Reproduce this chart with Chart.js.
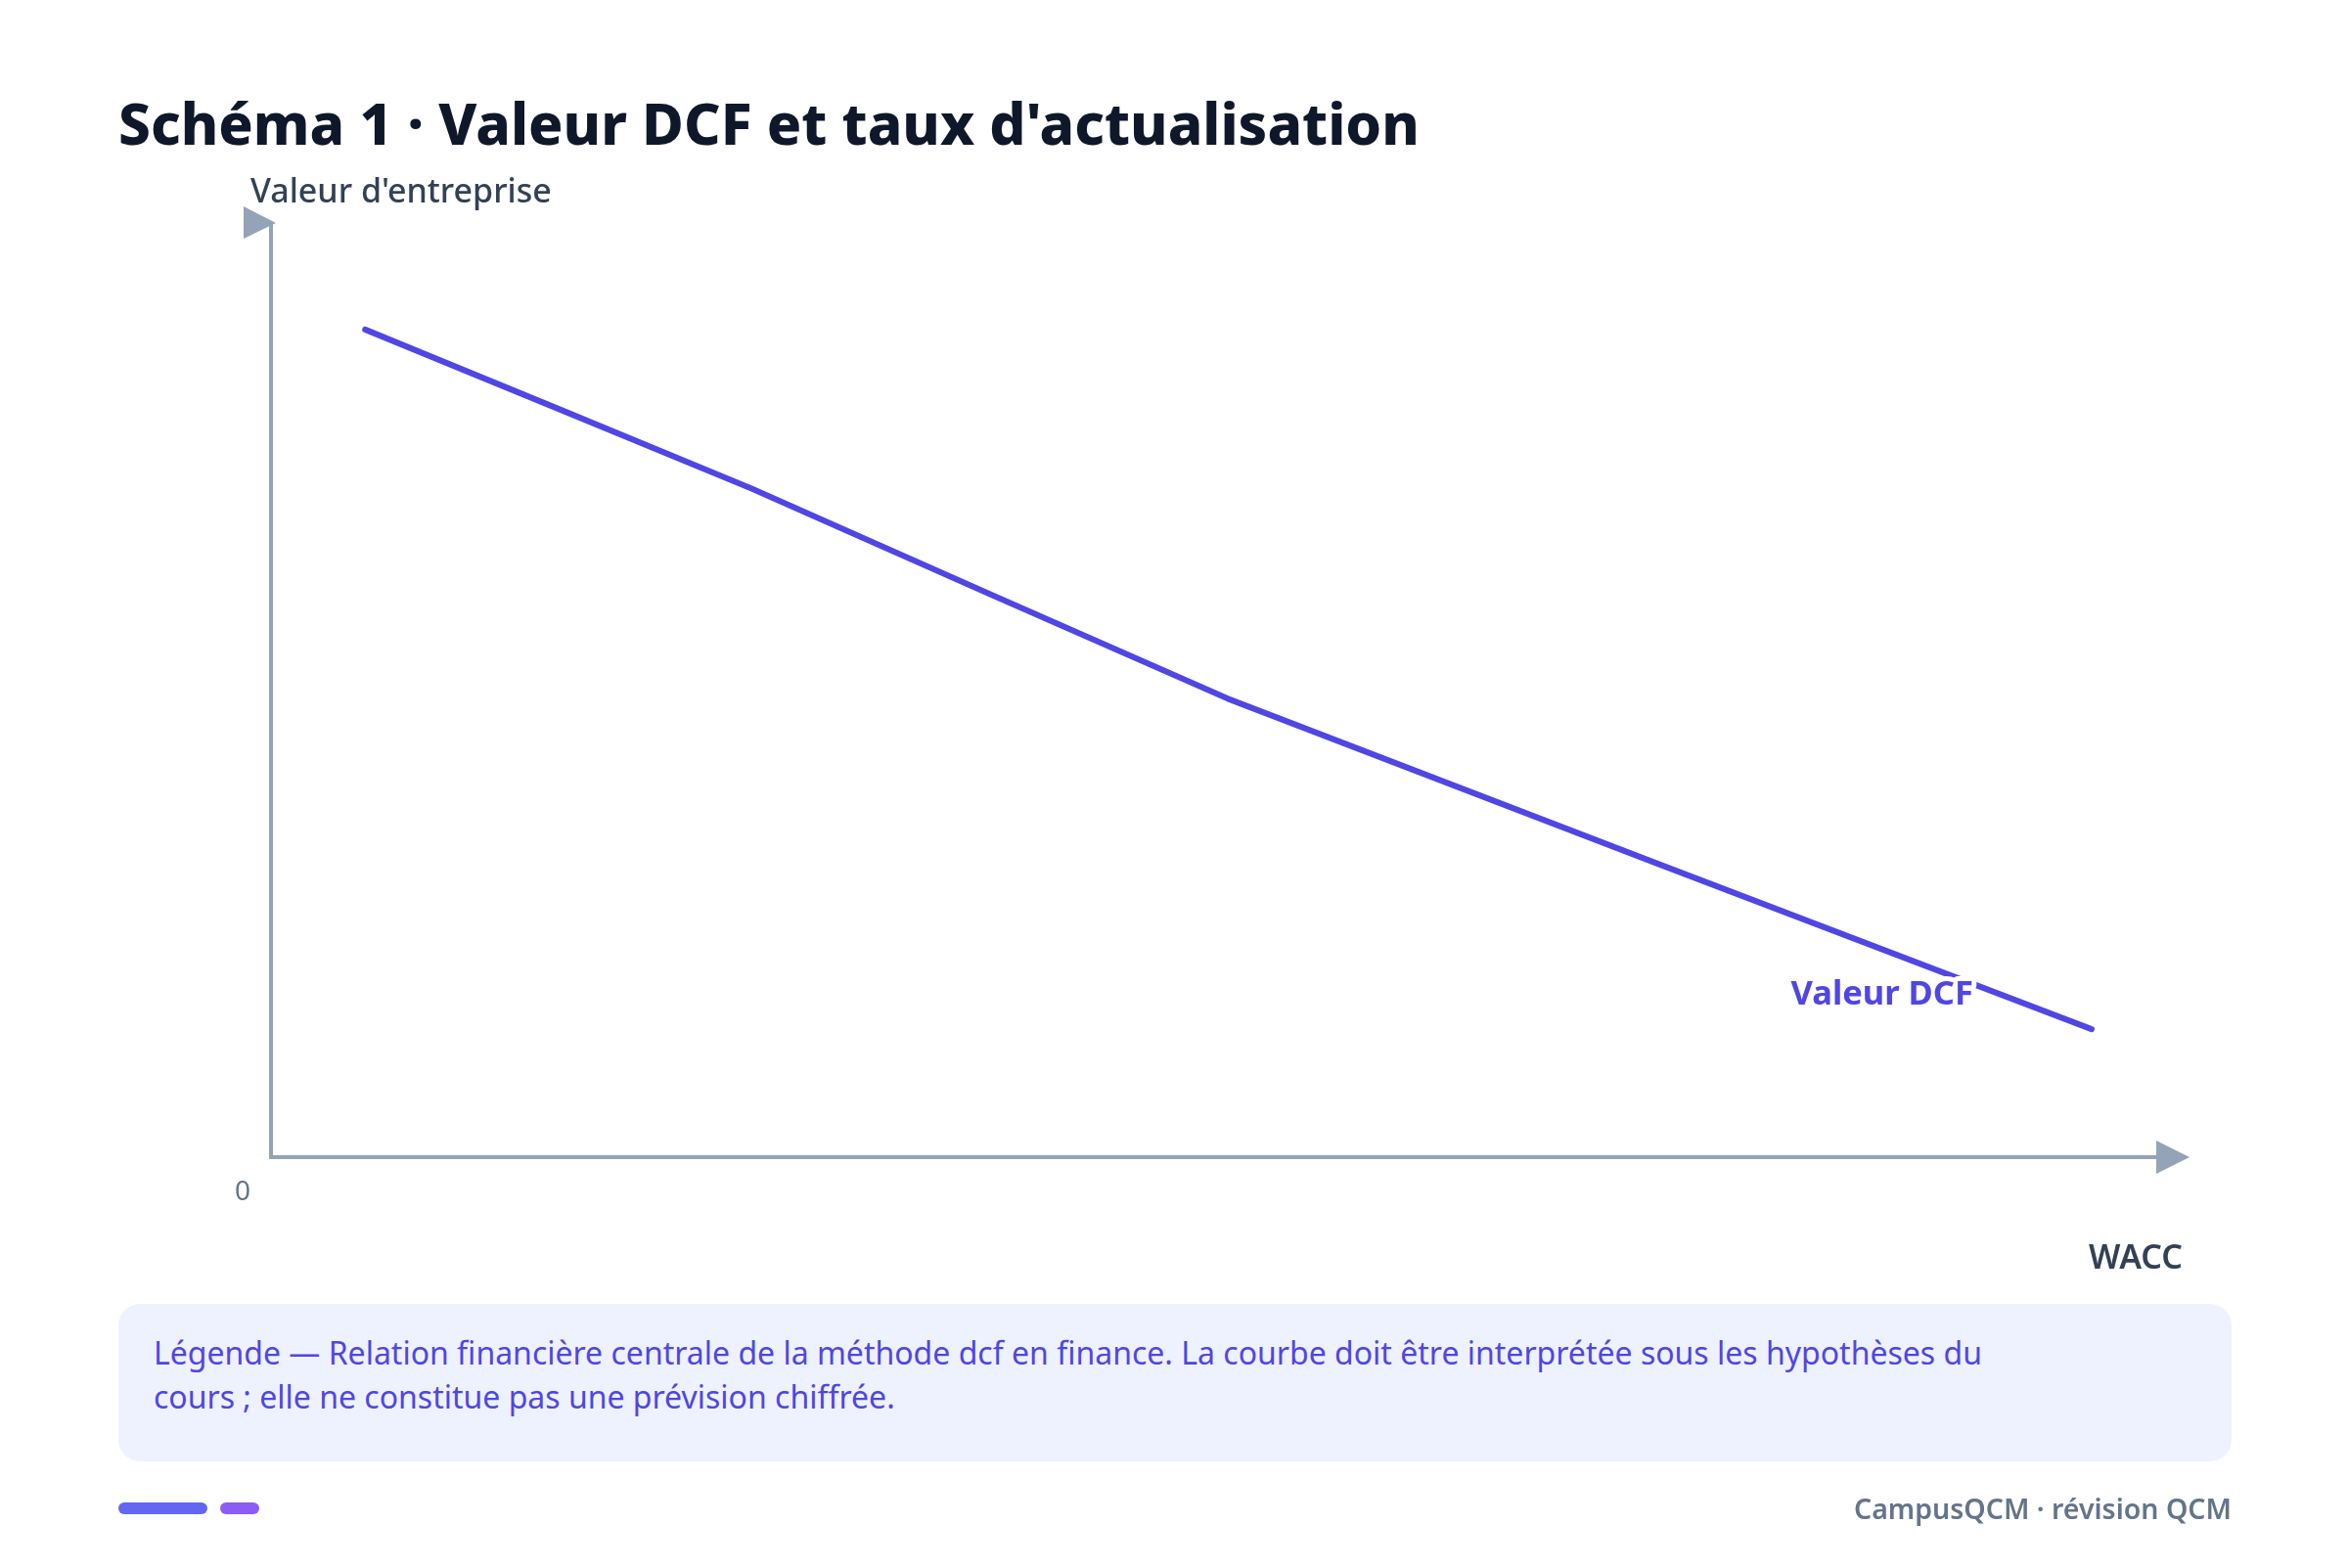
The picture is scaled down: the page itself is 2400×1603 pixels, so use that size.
<!DOCTYPE html>
<html lang="fr">
<head>
<meta charset="utf-8">
<script src="https://cdn.jsdelivr.net/npm/chart.js@4.4.1/dist/chart.umd.min.js"></script>
<style>
  html, body { margin: 0; padding: 0; background: #ffffff; }
  body { width: 2400px; height: 1603px; position: relative; overflow: hidden; font-family: "Noto Sans", "Open Sans", sans-serif; }
  #chart { position: absolute; left: 0; top: 0; }
  #title { position: absolute; left: 121px; top: 96px; margin: 0; font-size: 58.5px; line-height: 58px; font-weight: 800; color: #0f172a; white-space: nowrap; }
  #caption { position: absolute; left: 121px; top: 1333px; width: 2160px; height: 161px; box-sizing: border-box; padding: 27px 36px 0 36px; background: #eef2ff; border-radius: 22px; font-size: 32px; line-height: 45px; color: #4f46e5; }
  #footer { position: absolute; right: 119px; top: 1528px; font-size: 28.5px; line-height: 29px; font-weight: 600; color: #64748b; white-space: nowrap; }
  .pill { position: absolute; top: 1536px; height: 12px; border-radius: 6px; }
</style>
</head>
<body>
<canvas id="chart" width="2400" height="1603"></canvas>
<h1 id="title">Schéma 1 · Valeur DCF et taux d'actualisation</h1>
<div id="caption">Légende — Relation financière centrale de la méthode dcf en finance. La courbe doit être interprétée sous les hypothèses du<br>cours ; elle ne constitue pas une prévision chiffrée.</div>
<div class="pill" style="left:121px;width:91px;background:#6366f1"></div>
<div class="pill" style="left:225px;width:40px;background:#8b5cf6"></div>
<div id="footer">CampusQCM · révision QCM</div>
<script>
// ---- data ----
const seriesName = "Valeur DCF";
const wacc = [4.9, 25.0, 49.8, 94.8];
const valeurDCF = [88.6, 71.6, 49.1, 13.7];
const xAxisLabel = "WACC";
const yAxisLabel = "Valeur d'entreprise";
const originLabel = "0";

const lineColor = "#4f46e5";
const axisColor = "#94a3b8";

const axesPlugin = {
  id: "axesPlugin",
  beforeDatasetsDraw(chart) {
    const ctx = chart.ctx;
    const xs = chart.scales.x, ys = chart.scales.y;
    const x0 = xs.getPixelForValue(0);
    const y0 = ys.getPixelForValue(0);
    const xEnd = xs.getPixelForValue(100);
    const yEnd = ys.getPixelForValue(100);
    ctx.save();
    ctx.strokeStyle = axisColor;
    ctx.fillStyle = axisColor;
    ctx.lineWidth = 4;
    ctx.beginPath();
    ctx.moveTo(x0, y0);
    ctx.lineTo(x0, yEnd);
    ctx.stroke();
    ctx.beginPath();
    ctx.moveTo(x0 - 2, y0);
    ctx.lineTo(xEnd - 20, y0);
    ctx.stroke();
    ctx.beginPath();
    ctx.moveTo(xEnd - 2, y0);
    ctx.lineTo(xEnd - 36, y0 - 17);
    ctx.lineTo(xEnd - 36, y0 + 17);
    ctx.closePath();
    ctx.fill();
    ctx.beginPath();
    ctx.moveTo(x0 + 5, yEnd);
    ctx.lineTo(x0 - 28, yEnd - 17);
    ctx.lineTo(x0 - 28, yEnd + 16);
    ctx.closePath();
    ctx.fill();
    ctx.textBaseline = "alphabetic";
    ctx.fillStyle = "#334155";
    ctx.font = '500 34px "Noto Sans"';
    ctx.textAlign = "left";
    ctx.fillText(yAxisLabel, x0 - 21, yEnd - 21);
    ctx.font = '600 34px "Noto Sans"';
    ctx.textAlign = "right";
    ctx.fillText(xAxisLabel, xEnd - 9, y0 + 114);
    ctx.fillStyle = "#64748b";
    ctx.font = '400 28px "Noto Sans"';
    ctx.textAlign = "center";
    ctx.fillText(originLabel, x0 - 29, y0 + 44);
    ctx.restore();
  },
  afterDatasetsDraw(chart) {
    const ctx = chart.ctx;
    const meta = chart.getDatasetMeta(0);
    const last = meta.data[meta.data.length - 1];
    ctx.save();
    ctx.font = '700 34.5px "Noto Sans"';
    ctx.textAlign = "right";
    ctx.textBaseline = "alphabetic";
    ctx.lineJoin = "round";
    ctx.strokeStyle = "#ffffff";
    ctx.lineWidth = 10;
    const lx = last.x - 121, ly = last.y - 25;
    ctx.strokeText(seriesName, lx, ly);
    ctx.fillStyle = lineColor;
    ctx.fillText(seriesName, lx, ly);
    ctx.restore();
  }
};

new Chart(document.getElementById("chart"), {
  type: "line",
  data: {
    datasets: [{
      label: seriesName,
      data: wacc.map((x, i) => ({ x: x, y: valeurDCF[i] })),
      borderColor: lineColor,
      borderWidth: 6,
      borderCapStyle: "round",
      borderJoinStyle: "round",
      pointRadius: 0,
      tension: 0.08,
      fill: false
    }]
  },
  options: {
    responsive: false,
    animation: false,
    devicePixelRatio: 1,
    layout: { padding: { left: 277, right: 160, top: 228, bottom: 420 } },
    plugins: { legend: { display: false }, tooltip: { enabled: false } },
    scales: {
      x: { type: "linear", min: 0, max: 100, display: false },
      y: { type: "linear", min: 0, max: 100, display: false }
    }
  },
  plugins: [axesPlugin]
});
</script>
</body>
</html>
